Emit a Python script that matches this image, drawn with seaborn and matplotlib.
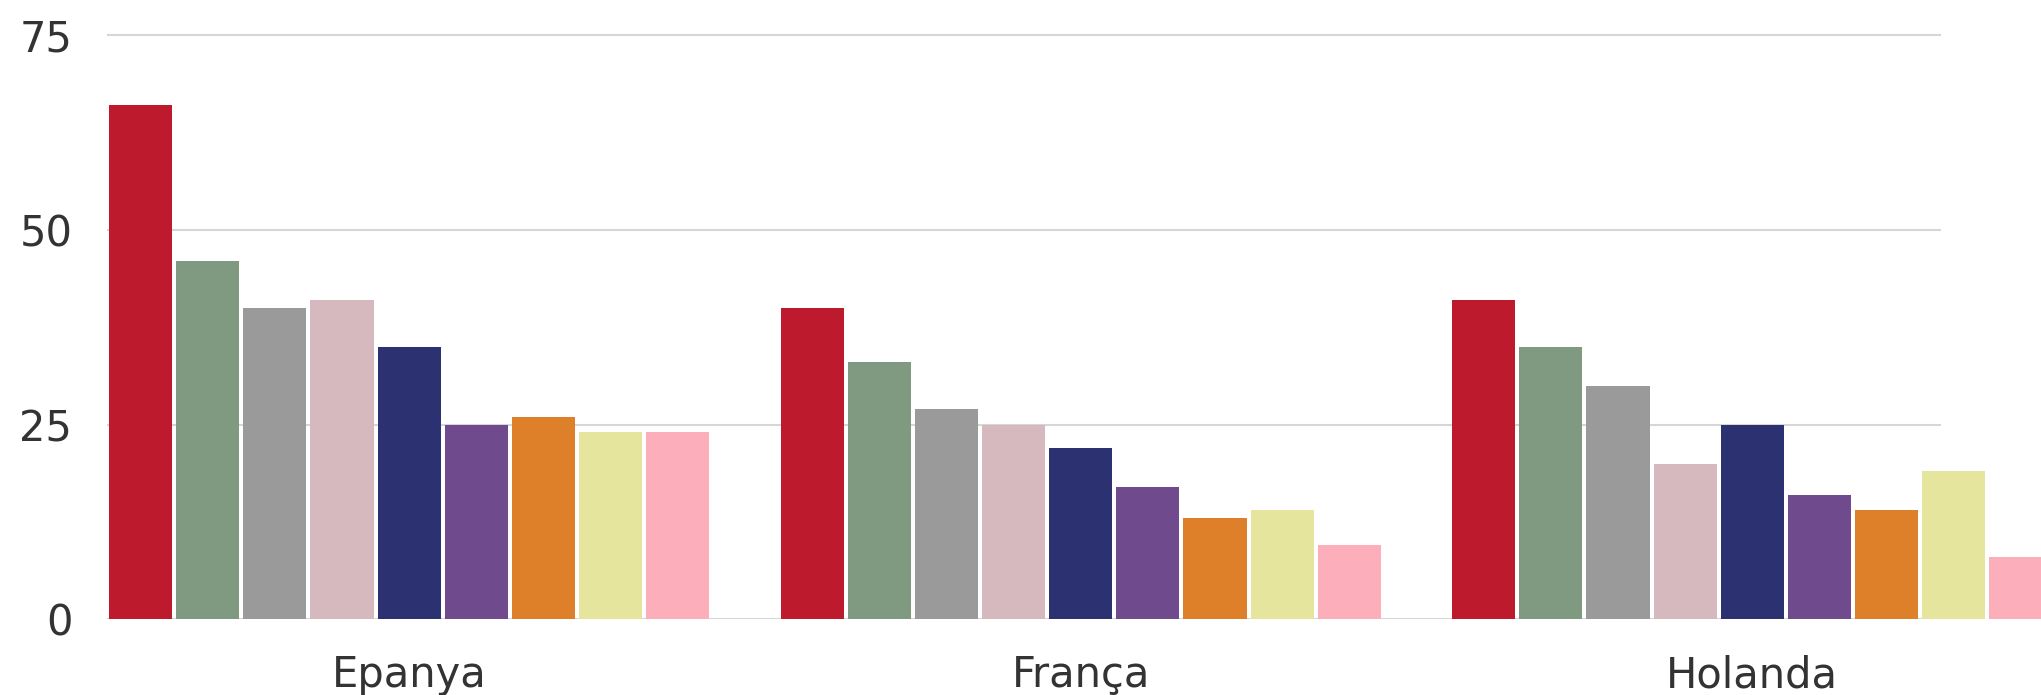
import numpy as np
import pandas as pd
import matplotlib
matplotlib.use("Agg")
import matplotlib.pyplot as plt
import seaborn as sns

# ---- data ----
countries = ["Epanya", "França", "Holanda"]
series = ["Sèrie 1", "Sèrie 2", "Sèrie 3", "Sèrie 4", "Sèrie 5",
          "Sèrie 6", "Sèrie 7", "Sèrie 8", "Sèrie 9"]
values_epanya = [66, 46, 40, 41, 35, 25, 26, 24, 24]
values_franca = [40, 33, 27, 25, 22, 17, 13, 14, 9.5]
values_holanda = [41, 35, 30, 20, 25, 16, 14, 19, 8]
yticks = [0, 25, 50, 75]

colors = ["#be1a2e", "#809a82", "#9b9a9b", "#d6b9bf", "#2c3172",
          "#6f4b8e", "#dd8029", "#e5e59e", "#fdaebb"]

rows = []
for c, vals in zip(countries, [values_epanya, values_franca, values_holanda]):
    for s, v in zip(series, vals):
        rows.append({"país": c, "sèrie": s, "valor": v})
df = pd.DataFrame(rows)

sns.set_style("white")
plt.rcParams["font.family"] = ["DejaVu Sans"]

W, H = 2041, 695
fig = plt.figure(figsize=(W / 100, H / 100), dpi=100)
ax_left, ax_right = 107, 1941
ax_top, ax_bottom = 11.7, 619.3
ax = fig.add_axes([ax_left / W, 1 - ax_bottom / H,
                   (ax_right - ax_left) / W, (ax_bottom - ax_top) / H])

sns.barplot(data=df, x="país", y="valor", hue="sèrie", order=countries,
            hue_order=series, palette=colors, saturation=1, width=0.9,
            gap=0.06, legend=False, linewidth=0, ax=ax)

for p in ax.patches:
    p.set_clip_on(False)

ax.set_xlim(-0.45, 2.281)
ax.set_ylim(0, 78)
ax.set_yticks(yticks)
ax.set_yticklabels([str(t) for t in yticks])
ax.set_xlabel("")
ax.set_ylabel("")
ax.grid(axis="y", color="#d6d6d6", linewidth=1.5)
ax.grid(axis="x", visible=False)
ax.set_axisbelow(True)
for sp in ax.spines.values():
    sp.set_visible(False)
ax.tick_params(axis="y", length=0, pad=25, labelsize=30, labelcolor="#333333")
ax.tick_params(axis="x", length=0, pad=25, labelsize=30, labelcolor="#333333")

fig.savefig("out.png", dpi=100)
